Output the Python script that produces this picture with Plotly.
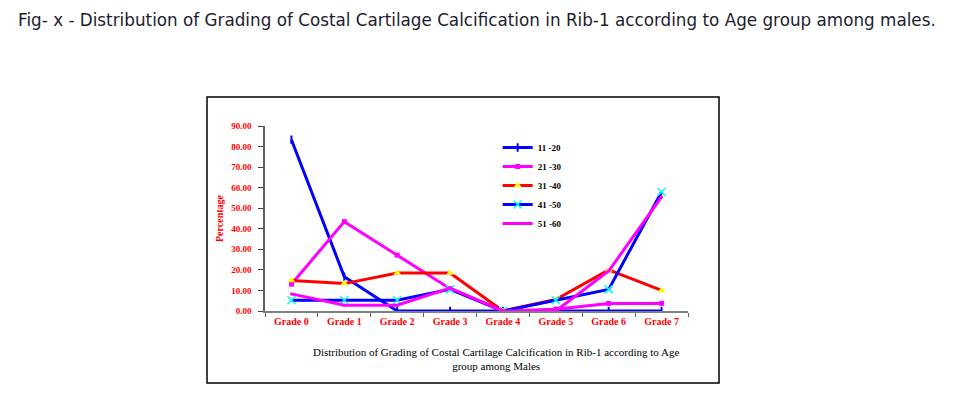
import plotly.graph_objects as go

grades = ["Grade 0", "Grade 1", "Grade 2", "Grade 3", "Grade 4", "Grade 5", "Grade 6", "Grade 7"]
age_11_20 = [83.33, 16.67, 0, 0, 0, 0, 0, 0]
age_21_30 = [13.04, 43.48, 27.17, 10.87, 0, 0.9, 3.7, 3.7]
age_31_40 = [14.81, 13.33, 18.52, 18.52, 0, 5.56, 20.0, 10.0]
age_41_50 = [5.26, 5.26, 5.26, 10.53, 0, 5.26, 10.53, 57.89]
age_51_60 = [8.33, 2.78, 2.78, 11.11, 0, 0, 19.44, 55.56]
yticks = [0, 10, 20, 30, 40, 50, 60, 70, 80, 90]

series = [
    ("11 -20", age_11_20, "#0000FF", dict(symbol="line-ns", size=6, color="#0000FF", line=dict(width=2, color="#0000FF"))),
    ("21 -30", age_21_30, "#FF00FF", dict(symbol="square", size=5, color="#FF00FF")),
    ("31 -40", age_31_40, "#FF0000", dict(symbol="triangle-up", size=7, color="#FFFF00")),
    ("41 -50", age_41_50, "#0000FF", dict(symbol="x-thin", size=8, color="#00FFFF", line=dict(width=1.5, color="#00FFFF"))),
    ("51 -60", age_51_60, "#FF00FF", dict(symbol="circle", size=3, color="#FF00FF")),
]

fig = go.Figure()
for name, vals, col, mk in series:
    fig.add_trace(go.Scatter(x=grades, y=vals, name=name, mode="lines+markers",
                             line=dict(color=col, width=3), marker=mk))

W, H = 945, 387
L, T, R, B = 257, 118, 265, 84
fig.update_layout(
    width=W, height=H,
    margin=dict(l=L, r=R, t=T, b=B),
    paper_bgcolor="white", plot_bgcolor="white",
    showlegend=True,
    legend=dict(x=0.55, y=0.962, xanchor="left", yanchor="top",
                font=dict(family="Liberation Serif", size=9, color="black", weight="bold"),
                bgcolor="rgba(0,0,0,0)", itemwidth=30, tracegroupgap=0),
    xaxis=dict(type="category", range=[-0.5, 7.5], showgrid=False, showline=True,
               linecolor="#808080", linewidth=1.5, ticks="outside", tickson="boundaries",
               ticklen=4, tickcolor="#606060",
               tickfont=dict(family="Liberation Serif", size=10, color="#FF0000", weight="bold")),
    yaxis=dict(range=[0, 90], tickvals=yticks, tickformat=".2f", showgrid=False, showline=True,
               linecolor="#606060", linewidth=1.5, ticks="outside", ticklen=5, tickcolor="#404040",
               ticklabelstandoff=5, zeroline=False,
               tickfont=dict(family="Liberation Serif", size=9, color="#FF0000", weight="bold"),
               title=dict(text="Percentage", standoff=6,
                          font=dict(family="Liberation Serif", size=10, color="#FF0000", weight="bold"))),
)

fig.add_annotation(text="Fig- x - Distribution of Grading of Costal Cartilage Calcification in Rib-1 according to Age group among males.",
                   xref="paper", yref="paper", x=0.5, y=1, yanchor="middle", yshift=106, showarrow=False,
                   font=dict(family="DejaVu Sans", size=16.8, color="#1c1c2e"))
fig.add_annotation(text="Distribution of Grading of Costal Cartilage Calcification in Rib-1 according to Age<br>group among Males",
                   xref="paper", yref="paper", x=0.545, y=0, yanchor="middle", yshift=-48, showarrow=False,
                   font=dict(family="Liberation Serif", size=11, color="black"))
fig.add_shape(type="rect", xref="paper", yref="paper",
              x0=(207-265)/423, x1=(719-265)/423, y0=-(383-311)/185, y1=(311-97)/185,
              line=dict(color="black", width=1.5))

fig.write_html("out.html")
